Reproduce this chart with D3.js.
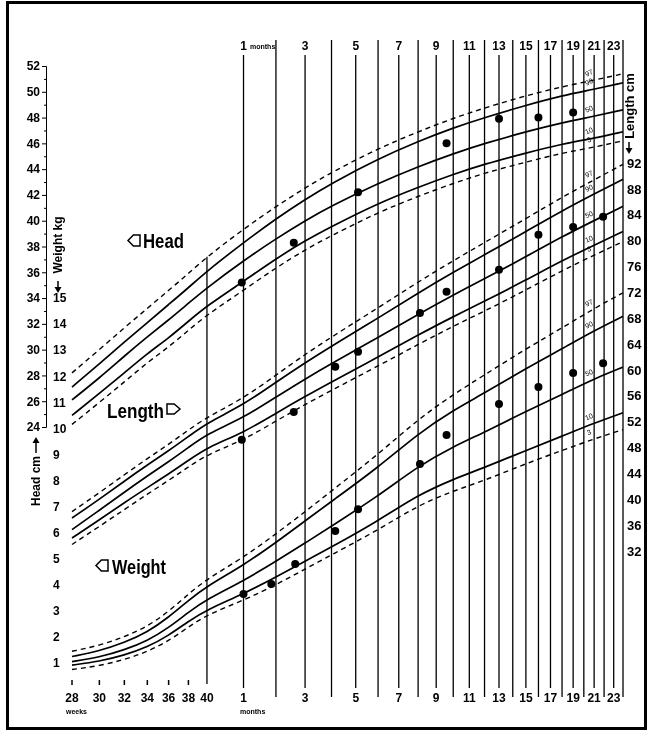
<!DOCTYPE html>
<html>
<head>
<meta charset="utf-8">
<script src="https://cdn.jsdelivr.net/npm/d3@7"></script>
<style>
  body { margin: 0; background: #fff; }
  svg { will-change: transform; }
  svg text { font-family: "Liberation Sans Narrow", "Liberation Sans", Arial, sans-serif; font-weight: bold; fill: #000; }
</style>
</head>
<body>
<div class="canvas"></div>
<script>
const width = 649;
const height = 732;

// age grid: weeks of gestation, then months after term
const gridWeeks = [28, 30, 32, 34, 36, 38, 40];
const gridMonths = [1, 2, 3, 4, 6, 8, 10, 12, 15, 18, 21, 24];

// head circumference, cm (3rd, 10th, 50th, 90th, 97th centile)
const head3 = [24.2, 25.9, 27.5, 29.0, 30.2, 31.5, 32.7, 34.6, 36.35, 37.75, 38.85, 40.65, 41.9, 42.9, 43.7, 44.55, 45.25, 45.7, 46.2];
const head10 = [24.9, 26.6, 28.2, 29.7, 30.9, 32.2, 33.4, 35.3, 37.05, 38.45, 39.55, 41.35, 42.6, 43.6, 44.4, 45.25, 45.95, 46.4, 46.9];
const head50 = [26.1, 27.8, 29.5, 31.0, 32.3, 33.6, 34.8, 36.9, 38.6, 40.0, 41.15, 42.9, 44.2, 45.2, 46.0, 46.9, 47.6, 48.1, 48.6];
const head90 = [27.1, 28.9, 30.6, 32.1, 33.5, 34.8, 36.1, 38.3, 40.15, 41.65, 42.9, 44.8, 46.15, 47.2, 48.0, 48.95, 49.7, 50.2, 50.7];
const head97 = [28.2, 30.0, 31.7, 33.2, 34.6, 35.9, 37.2, 39.35, 41.1, 42.55, 43.75, 45.6, 46.9, 47.95, 48.75, 49.7, 50.4, 50.9, 51.4];

// length, cm
const length3 = [33.0, 35.8, 38.4, 40.8, 42.9, 45.0, 46.9, 49.15, 52.1, 54.65, 56.85, 60.6, 63.95, 66.75, 69.1, 72.35, 75.35, 77.75, 79.85];
const length10 = [34.0, 36.8, 39.5, 41.8, 43.9, 46.0, 48.0, 50.3, 53.3, 55.9, 58.15, 62.0, 65.4, 68.25, 70.6, 73.9, 76.9, 79.3, 81.4];
const length50 = [35.3, 38.3, 41.1, 43.6, 45.8, 48.0, 50.1, 52.6, 55.8, 58.6, 61.0, 65.0, 68.6, 71.6, 74.1, 77.5, 80.6, 83.1, 85.3];
const length90 = [37.1, 40.0, 42.8, 45.3, 47.5, 49.7, 51.8, 54.6, 58.1, 61.1, 63.7, 68.0, 71.9, 75.1, 77.8, 81.4, 84.6, 87.2, 89.5];
const length97 = [38.1, 41.0, 43.8, 46.3, 48.5, 50.7, 52.7, 55.6, 59.2, 62.4, 65.1, 69.6, 73.6, 76.9, 79.7, 83.4, 86.7, 89.4, 91.8];

// weight, kg
const weight3 = [0.75, 0.89, 1.13, 1.43, 1.85, 2.38, 2.85, 3.4, 4.0, 4.6, 5.15, 6.1, 7.05, 7.6, 8.0, 8.65, 9.15, 9.6, 9.95];
const weight10 = [0.92, 1.06, 1.3, 1.61, 2.05, 2.6, 3.05, 3.65, 4.3, 4.9, 5.45, 6.45, 7.45, 8.05, 8.5, 9.15, 9.7, 10.2, 10.6];
const weight50 = [1.05, 1.22, 1.5, 1.85, 2.35, 2.95, 3.45, 4.15, 4.9, 5.6, 6.25, 7.4, 8.55, 9.3, 9.85, 10.65, 11.3, 11.9, 12.35];
const weight90 = [1.25, 1.46, 1.78, 2.18, 2.75, 3.4, 3.95, 4.75, 5.62, 6.45, 7.2, 8.5, 9.8, 10.7, 11.35, 12.3, 13.05, 13.75, 14.3];
const weight97 = [1.45, 1.67, 2.0, 2.4, 2.97, 3.65, 4.22, 5.05, 5.95, 6.8, 7.6, 9.0, 10.35, 11.3, 12.05, 13.05, 13.85, 14.6, 15.2];

const centiles = ["3", "10", "50", "90", "97"];

// the child's measurements (age in months after term)
const headDotMonths = [0.95, 2.6, 5.1, 9.6, 13, 16, 19];
const headDotValues = [35.2, 38.3, 42.2, 46.0, 47.9, 48.0, 48.4];
const lengthDotMonths = [0.95, 2.6, 4.15, 5.1, 8.1, 9.6, 13, 16, 19, 21.9];
const lengthDotValues = [49.2, 53.5, 60.5, 62.8, 68.8, 72.1, 75.5, 80.9, 82.1, 83.7];
const weightDotMonths = [1, 1.85, 2.65, 4.15, 5.1, 8.1, 9.6, 13, 16, 19, 21.9];
const weightDotValues = [3.65, 4.03, 4.8, 6.06, 6.9, 8.63, 9.75, 10.93, 11.59, 12.12, 12.5];

// axis labels
const weekTicks = [28, 30, 32, 34, 36, 38, 40];
const monthLines = d3.range(1, 25);
const monthLabels = d3.range(1, 24, 2);
const headTicks = d3.range(24, 53);
const weightTicks = d3.range(1, 16);
const lengthTicks = d3.range(32, 93, 4);

const weeksPerMonth = 4.345;
const fromMonths = m => 40 + m * weeksPerMonth;
const gridAges = gridWeeks.concat(gridMonths.map(fromMonths));

const svg = d3.select(".canvas")
  .append("svg")
  .attr("width", width)
  .attr("height", height);

// frame
svg.append("rect")
  .attr("x", 7.5).attr("y", 2.5)
  .attr("width", 638).attr("height", 726)
  .attr("fill", "none")
  .attr("stroke", "#000")
  .attr("stroke-width", 3);

// age axis is logarithmic in (postmenstrual weeks - 8)
const offset = 8;
const xScale = d3.scaleLog()
  .domain([28 - offset, fromMonths(24) - offset])
  .range([72, 623]);
const x = w => xScale(w - offset);

const headY = d3.scaleLinear().domain([24, 52]).range([427, 66]);
const weightY = d3.scaleLinear().domain([1, 15]).range([663, 298]);
const lengthY = d3.scaleLinear().domain([32, 92]).range([551, 163]);

// month grid lines
svg.append("g")
  .selectAll("line")
  .data(monthLines)
  .enter()
  .append("line")
  .attr("x1", m => x(fromMonths(m)))
  .attr("x2", m => x(fromMonths(m)))
  .attr("y1", m => m % 2 ? 55 : 40)
  .attr("y2", m => m % 2 ? 688 : 697)
  .attr("stroke", "#000")
  .attr("stroke-width", 1.3);

// term line
svg.append("line")
  .attr("x1", x(40)).attr("x2", x(40))
  .attr("y1", headY(37.2)).attr("y2", 684)
  .attr("stroke", "#000")
  .attr("stroke-width", 1.3);

// centile curves
const sets = [
  { y: headY, values: [head3, head10, head50, head90, head97] },
  { y: lengthY, values: [length3, length10, length50, length90, length97] },
  { y: weightY, values: [weight3, weight10, weight50, weight90, weight97] }
];

const labelAge = fromMonths(20.6);

sets.forEach(set => {
  set.values.forEach((vals, i) => {
    const pts = gridAges.map((a, j) => [a, vals[j]]);
    const line = d3.line()
      .x(d => x(d[0]))
      .y(d => set.y(d[1]))
      .curve(d3.curveBasis);
    const dashed = i === 0 || i === 4;

    svg.append("path")
      .datum(pts)
      .attr("d", line)
      .attr("fill", "none")
      .attr("stroke", "#000")
      .attr("stroke-width", dashed ? 1.4 : 1.7)
      .attr("stroke-dasharray", dashed ? "5,4" : null);

    // centile label just above the curve
    const interp = d3.scaleLinear().domain(gridAges).range(vals);
    const lx = x(labelAge);
    const ly = set.y(interp(labelAge)) - 6;
    svg.append("text")
      .attr("transform", `translate(${lx},${ly}) rotate(-25)`)
      .attr("text-anchor", "middle")
      .style("font-size", "7px")
      .style("font-weight", "normal")
      .text(centiles[i]);
  });
});

// measurements
const dots = [
  { y: headY, months: headDotMonths, values: headDotValues },
  { y: lengthY, months: lengthDotMonths, values: lengthDotValues },
  { y: weightY, months: weightDotMonths, values: weightDotValues }
];

dots.forEach(set => {
  svg.append("g")
    .selectAll("circle")
    .data(set.months)
    .enter()
    .append("circle")
    .attr("cx", m => x(fromMonths(m)))
    .attr("cy", (m, i) => set.y(set.values[i]))
    .attr("r", 4)
    .attr("fill", "#000");
});

// left head axis
const headAxis = d3.axisLeft(headY)
  .tickValues(headTicks)
  .tickSize(3)
  .tickSizeOuter(4)
  .tickPadding(3)
  .tickFormat(d => d % 2 ? "" : d);

const gHead = svg.append("g")
  .attr("transform", "translate(46,0)")
  .call(headAxis);
gHead.selectAll("text").style("font-size", "12px").style("font-family", null).attr("fill", "#000");
gHead.selectAll(".tick line").attr("x2", d => d % 2 ? -2 : -4);

// weight numbers next to the axis
const gWeight = svg.append("g")
  .attr("transform", "translate(53,0)")
  .call(d3.axisRight(weightY).tickValues(weightTicks).tickSize(0).tickPadding(0));
gWeight.select(".domain").remove();
gWeight.selectAll("text").style("font-size", "12px").style("font-family", null).attr("fill", "#000");

// right length axis
const gLength = svg.append("g")
  .attr("transform", "translate(627,0)")
  .call(d3.axisRight(lengthY).tickValues(lengthTicks).tickSize(0).tickPadding(0));
gLength.select(".domain").remove();
gLength.selectAll("text").style("font-size", "13px").style("font-family", null).attr("fill", "#000");

// bottom weeks
const gWeeks = svg.append("g")
  .attr("transform", "translate(0,680)");
gWeeks.selectAll("line")
  .data(weekTicks.slice(0, -1))
  .enter()
  .append("line")
  .attr("x1", x).attr("x2", x)
  .attr("y1", 0).attr("y2", 5)
  .attr("stroke", "#000")
  .attr("stroke-width", 1.5);
gWeeks.selectAll("text")
  .data(weekTicks)
  .enter()
  .append("text")
  .attr("x", x)
  .attr("y", 22)
  .attr("text-anchor", "middle")
  .style("font-size", "12px")
  .text(d => d);

svg.append("text")
  .attr("x", 66).attr("y", 714)
  .style("font-size", "7px")
  .text("weeks");

// month labels, bottom and top
[702, 50].forEach(ry => {
  svg.append("g")
    .selectAll("text")
    .data(monthLabels)
    .enter()
    .append("text")
    .attr("x", m => x(fromMonths(m)))
    .attr("y", ry)
    .attr("text-anchor", "middle")
    .style("font-size", "12px")
    .text(m => m);
});

svg.append("text")
  .attr("x", 240).attr("y", 714)
  .style("font-size", "7px")
  .text("months");
svg.append("text")
  .attr("x", 250).attr("y", 49)
  .style("font-size", "7px")
  .text("months");

// rotated axis titles with arrows
function rotatedTitle(cx, cy, label, size) {
  svg.append("text")
    .attr("transform", `translate(${cx},${cy}) rotate(-90)`)
    .attr("text-anchor", "middle")
    .attr("dy", "0.35em")
    .style("font-size", size + "px")
    .text(label);
}
function arrow(ax, y1, y2) {
  const dir = Math.sign(y2 - y1);
  svg.append("line")
    .attr("x1", ax).attr("x2", ax)
    .attr("y1", y1).attr("y2", y2 - dir * 5)
    .attr("stroke", "#000").attr("stroke-width", 1.5);
  svg.append("path")
    .attr("d", `M${ax - 3.5},${y2 - dir * 6}L${ax + 3.5},${y2 - dir * 6}L${ax},${y2}Z`)
    .attr("fill", "#000");
}

rotatedTitle(36, 481, "Head cm", 12);
arrow(36, 453, 437);
rotatedTitle(58, 245, "Weight kg", 12);
arrow(58, 281, 293);
rotatedTitle(629, 106, "Length cm", 13);
arrow(629, 142, 154);

// series labels with tag shapes
function tag(tx, ty, w, h, pointLeft) {
  const p = pointLeft
    ? [[tx, ty + h / 2], [tx + w * 0.45, ty], [tx + w, ty], [tx + w, ty + h], [tx + w * 0.45, ty + h]]
    : [[tx, ty], [tx + w * 0.55, ty], [tx + w, ty + h / 2], [tx + w * 0.55, ty + h], [tx, ty + h]];
  svg.append("path")
    .attr("d", d3.line()(p) + "Z")
    .attr("fill", "none")
    .attr("stroke", "#000")
    .attr("stroke-width", 1.5);
}

tag(128, 235, 12, 11, true);
svg.append("text").attr("x", 143).attr("y", 248)
  .attr("textLength", 41).attr("lengthAdjust", "spacingAndGlyphs")
  .style("font-size", "20px").text("Head");

svg.append("text").attr("x", 107).attr("y", 418)
  .attr("textLength", 57).attr("lengthAdjust", "spacingAndGlyphs")
  .style("font-size", "21px").text("Length");
tag(167, 404, 13, 10, false);

tag(96, 560, 12, 11, true);
svg.append("text").attr("x", 112).attr("y", 574)
  .attr("textLength", 54).attr("lengthAdjust", "spacingAndGlyphs")
  .style("font-size", "21px").text("Weight");
</script>
</body>
</html>
